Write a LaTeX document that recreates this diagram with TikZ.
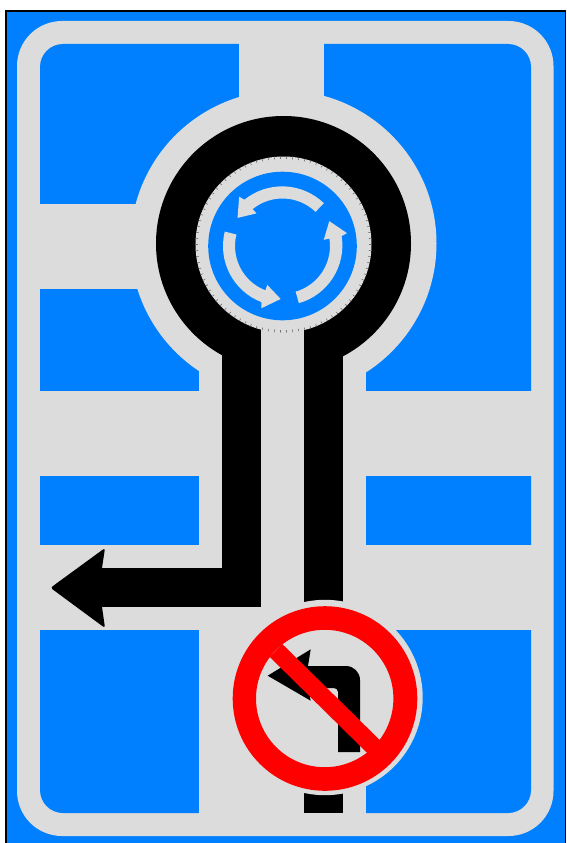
\documentclass[tikz,border=0pt]{standalone}
\usetikzlibrary{calc}
\definecolor{signblue}{HTML}{0080FF}
\definecolor{signgray}{HTML}{DCDCDC}
\definecolor{signred}{HTML}{FF0000}
\tikzset{
  road/.style={fill=signgray,draw=none},
  water/.style={fill=signblue,draw=none},
  lane/.style={fill=black,draw=none},
  prohib/.style={fill=signred,draw=none}
}
\begin{document}
\begin{tikzpicture}[x=1pt,y=-1pt]
\useasboundingbox (0,0) rectangle (567,843);
\clip (0,0) rectangle (567,843);
% panel
\fill[white] (0,0) rectangle (567,843);
\draw[water,draw=black,line width=1.6pt] (6,10.8) rectangle (565.3,860);
% frame
\fill[road,rounded corners=45pt] (17,21) rectangle (553.5,836);
\fill[water,rounded corners=23pt] (40,44) rectangle (531,813);
% streets
\fill[road] (239,35) rectangle (324,120);
\fill[road] (30,204) rectangle (160,289);
\fill[road] (30,391) rectangle (540,476);
\fill[road] (30,545) rectangle (540,629.5);
\fill[road] (199,350) rectangle (366,822);
% roundabout
\fill[road] (283.5,243.5) circle[radius=153];
\fill[lane] (283.5,243.5) circle[radius=127.5];
% lanes
\fill[lane] (222,340) rectangle (261,607);
\fill[lane] (100,568) rectangle (261,607);
\fill[lane,rounded corners=2.5pt] (50.5,587.8) -- (105,548) -- (102,568) -- (102,607) -- (105,628) -- cycle;
\fill[lane] (304,340) rectangle (343,813);
\fill[road] (261,300) rectangle (304,620);
% island
\fill[road] (283.5,244.5) circle[radius=88];
\foreach \t in {0,4,...,356}{
  \draw[black!55,line width=0.6pt] ($(283.5,244.5)+(\t:85.6)$) -- ($(283.5,244.5)+(\t:88.3)$);
}
\fill[water] (282.5,246) circle[radius=74.3];
% circulation arrows
\foreach \a in {0,120,240}{
  \begin{scope}[shift={(282.5,246)},y=1pt,rotate=\a]
    \fill[road] (46:48) -- (46:59.5) arc[start angle=46,end angle=129,radius=60]
      -- (131.3:65.7) -- (148:53) -- (128.5:41.7) -- (129:47.5)
      arc[start angle=129,end angle=46,radius=47.5] -- cycle;
  \end{scope}
}
% prohibition sign
\fill[road] (325,697.5) circle[radius=97.7];
\fill[lane] (267.7,675.7) -- (310.7,649.3) -- (308,666) -- (346,666)
  arc[start angle=-90,end angle=0,radius=14] -- (360,752) -- (338,752) -- (338,692)
  arc[start angle=0,end angle=-90,radius=4] -- (308,688) -- (310.7,700.7) -- cycle;
\fill[prohib,even odd rule] (325,698.5) circle[radius=92.3] (324.7,698.5) circle[radius=68.7];
\draw[signred,line width=18pt] (276,650.5) -- (374,747);
\end{tikzpicture}
\end{document}
